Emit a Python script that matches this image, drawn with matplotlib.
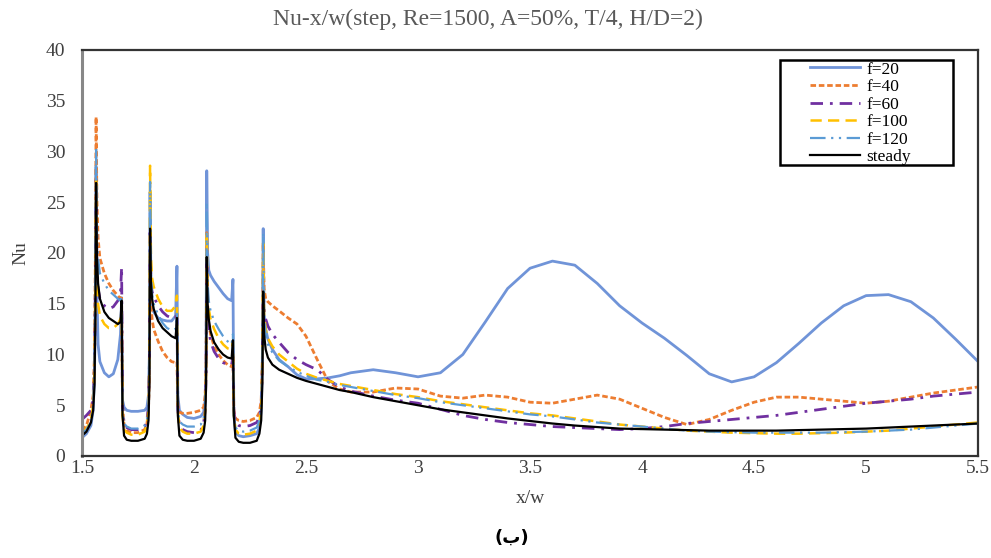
import numpy as np
import matplotlib
matplotlib.use("Agg")
import matplotlib.pyplot as plt
from matplotlib.patches import Rectangle

plt.rcParams['font.family'] = ['Liberation Serif', 'DejaVu Serif']

# x/w positions (dense around the block edges)
x_w = [1.50, 1.52, 1.54, 1.55, 1.556, 1.560, 1.563,
       1.567, 1.572, 1.58, 1.60, 1.62, 1.64, 1.66, 1.672, 1.677,
       1.681, 1.688, 1.70, 1.72, 1.75, 1.78, 1.79, 1.797, 1.801, 1.804,
       1.808, 1.813, 1.82, 1.84, 1.86, 1.88, 1.90, 1.918, 1.924,
       1.928, 1.935, 1.95, 1.97, 2.00, 2.03, 2.043, 2.050, 2.054, 2.057,
       2.061, 2.066, 2.074, 2.09, 2.11, 2.13, 2.15, 2.168, 2.174,
       2.178, 2.185, 2.20, 2.22, 2.25, 2.28, 2.292, 2.300, 2.305, 2.309,
       2.313, 2.32, 2.33, 2.35, 2.38, 2.42, 2.46, 2.50, 2.55, 2.60,
       2.65, 2.70, 2.80, 2.90, 3.00, 3.10, 3.20, 3.30, 3.40, 3.50,
       3.60, 3.70, 3.80, 3.90, 4.00, 4.10, 4.20, 4.30, 4.40, 4.50,
       4.60, 4.70, 4.80, 4.90, 5.00, 5.10, 5.20, 5.30, 5.40, 5.50]

nu_f20 = [1.8, 2.2, 3.0, 4.5, 8.0, 16.0, 28.5,
          16.0, 11.0, 9.3, 8.2, 7.8, 8.1, 9.5, 12.0, 15.6,
          5.5, 4.8, 4.5, 4.4, 4.4, 4.5, 4.8, 6.0, 10.0, 26.0,
          17.0, 15.0, 14.2, 13.6, 13.4, 13.3, 13.3, 13.8, 18.7,
          6.0, 4.5, 4.1, 3.8, 3.7, 3.9, 4.3, 5.5, 10.0, 28.1,
          20.0, 18.3, 17.8, 17.2, 16.6, 16.0, 15.5, 15.3, 17.4,
          4.0, 2.4, 2.0, 1.9, 2.0, 2.2, 2.8, 4.5, 9.0, 22.4,
          14.0, 12.5, 11.5, 10.5, 9.5, 8.8, 8.0, 7.6, 7.6, 7.7,
          7.9, 8.2, 8.5, 8.2, 7.8, 8.2, 10.0, 13.2, 16.5, 18.5,
          19.2, 18.8, 17.0, 14.8, 13.1, 11.6, 9.9, 8.1, 7.3, 7.8,
          9.2, 11.1, 13.1, 14.8, 15.8, 15.9, 15.2, 13.6, 11.5, 9.3]

nu_f40 = [2.5, 3.0, 4.5, 6.0, 10.0, 20.0, 33.4,
          25.0, 21.5, 19.5, 18.0, 17.0, 16.3, 15.8, 15.5, 15.8,
          5.0, 3.0, 2.5, 2.3, 2.3, 2.6, 3.2, 4.5, 8.0, 20.0,
          15.0, 13.5, 12.5, 11.3, 10.3, 9.7, 9.3, 9.2, 9.3,
          5.0, 4.3, 4.2, 4.2, 4.3, 4.5, 4.8, 6.0, 9.0, 22.0,
          15.0, 13.0, 12.0, 10.8, 10.0, 9.4, 9.0, 8.8, 9.5,
          4.5, 3.7, 3.5, 3.4, 3.5, 3.8, 4.3, 5.5, 9.0, 21.0,
          16.5, 15.5, 15.2, 14.8, 14.3, 13.6, 13.0, 11.8, 9.5, 7.3,
          6.6, 6.3, 6.3, 6.7, 6.6, 5.9, 5.7, 6.0, 5.8, 5.3,
          5.2, 5.6, 6.0, 5.6, 4.7, 3.8, 3.1, 3.6, 4.5, 5.3,
          5.8, 5.8, 5.6, 5.4, 5.2, 5.4, 5.8, 6.2, 6.5, 6.8]

nu_f60 = [3.6, 4.0, 4.5, 5.5, 9.0, 17.0, 27.2,
          19.0, 16.5, 15.5, 14.8, 14.5, 14.7, 15.3, 16.0, 18.6,
          5.0, 3.2, 2.8, 2.6, 2.6, 2.9, 3.5, 5.0, 9.0, 22.0,
          17.0, 16.2, 15.7, 14.8, 14.2, 13.8, 13.6, 13.6, 14.3,
          4.5, 3.0, 2.6, 2.4, 2.3, 2.5, 3.2, 4.5, 8.0, 20.0,
          14.0, 12.5, 11.3, 10.3, 9.6, 9.2, 9.0, 9.0, 9.8,
          4.5, 3.3, 3.0, 2.9, 3.0, 3.3, 3.8, 5.0, 8.5, 16.5,
          14.5, 13.5, 12.8, 12.0, 11.2, 10.2, 9.5, 9.0, 8.5, 7.5,
          6.8, 6.4, 5.9, 5.5, 5.2, 4.6, 4.0, 3.6, 3.3, 3.1,
          2.9, 2.8, 2.7, 2.6, 2.7, 2.9, 3.2, 3.4, 3.6, 3.8,
          4.0, 4.3, 4.6, 4.9, 5.2, 5.4, 5.6, 5.9, 6.1, 6.3]

nu_f100 = [2.3, 2.7, 3.5, 5.0, 8.5, 16.0, 27.5,
           17.0, 15.0, 13.8, 13.0, 12.6, 12.6, 13.0, 13.5, 14.5,
           4.0, 2.6, 2.3, 2.1, 2.1, 2.4, 3.0, 4.5, 9.0, 28.6,
           19.5, 17.5, 16.7, 15.5, 14.7, 14.3, 14.3, 14.8, 15.8,
           4.5, 2.8, 2.4, 2.2, 2.2, 2.4, 3.0, 4.5, 8.5, 22.0,
           16.0, 14.5, 13.5, 12.5, 11.6, 11.0, 10.6, 10.5, 11.3,
           4.0, 2.6, 2.2, 2.1, 2.2, 2.5, 3.2, 4.8, 9.0, 21.0,
           14.0, 12.5, 11.6, 10.8, 10.0, 9.3, 8.6, 8.1, 7.7, 7.4,
           7.1, 6.9, 6.5, 6.1, 5.8, 5.4, 5.1, 4.8, 4.5, 4.2,
           4.0, 3.7, 3.4, 3.1, 2.9, 2.7, 2.5, 2.4, 2.3, 2.25,
           2.2, 2.2, 2.25, 2.3, 2.4, 2.5, 2.7, 2.9, 3.1, 3.3]

nu_f120 = [2.2, 2.6, 3.3, 5.0, 9.0, 18.0, 30.5,
           22.0, 19.5, 18.0, 17.0, 16.3, 15.9, 15.5, 15.3, 15.8,
           4.5, 3.2, 2.9, 2.7, 2.7, 3.0, 3.5, 5.0, 9.5, 27.0,
           18.0, 16.0, 15.0, 13.9, 13.1, 12.6, 12.4, 12.5, 14.0,
           4.5, 3.4, 3.1, 2.9, 2.9, 3.1, 3.6, 5.0, 9.0, 25.0,
           17.0, 15.3, 14.3, 13.3, 12.5, 11.8, 11.3, 11.0, 12.0,
           4.0, 2.8, 2.5, 2.4, 2.5, 2.8, 3.5, 5.0, 9.0, 22.0,
           13.5, 12.0, 11.0, 10.2, 9.4, 8.8, 8.3, 7.9, 7.5, 7.3,
           7.0, 6.8, 6.4, 6.0, 5.7, 5.3, 5.0, 4.7, 4.4, 4.1,
           3.9, 3.6, 3.3, 3.1, 2.9, 2.7, 2.5, 2.4, 2.35, 2.3,
           2.3, 2.3, 2.3, 2.35, 2.4, 2.5, 2.6, 2.8, 3.0, 3.2]

nu_steady = [2.0, 2.4, 3.3, 4.5, 7.0, 14.0, 26.9,
             19.5, 17.0, 15.5, 14.2, 13.6, 13.3, 13.0, 13.2, 15.3,
             4.0, 2.0, 1.6, 1.5, 1.5, 1.7, 2.2, 3.5, 7.0, 22.4,
             17.0, 15.5, 14.5, 13.3, 12.6, 12.2, 11.8, 11.6, 13.6,
             4.0, 2.0, 1.6, 1.5, 1.5, 1.7, 2.3, 3.5, 7.0, 19.6,
             15.0, 13.5, 12.3, 11.2, 10.5, 10.0, 9.7, 9.6, 11.4,
             4.0, 1.8, 1.4, 1.3, 1.3, 1.5, 2.2, 3.5, 7.0, 16.2,
             12.0, 10.5, 9.7, 9.0, 8.5, 8.1, 7.7, 7.4, 7.1, 6.8,
             6.5, 6.3, 5.8, 5.4, 5.0, 4.6, 4.3, 4.0, 3.7, 3.45,
             3.2, 3.0, 2.85, 2.7, 2.65, 2.6, 2.55, 2.5, 2.5, 2.5,
             2.5, 2.55, 2.6, 2.65, 2.7, 2.8, 2.9, 3.0, 3.1, 3.2]

x_ticks = [1.5, 2, 2.5, 3, 3.5, 4, 4.5, 5, 5.5]
x_labels = ['1.5', '2', '2.5', '3', '3.5', '4', '4.5', '5', '5.5']
y_ticks = [0, 5, 10, 15, 20, 25, 30, 35, 40]

fig = plt.figure(figsize=(9.91, 5.58), dpi=100)
ax = fig.add_axes([0.0827, 0.1828, 0.9043, 0.7276])

ax.plot(x_w, nu_f20, color='#7094D8', lw=2.0, label='f=20')
ax.plot(x_w, nu_f40, color='#ED7D31', lw=2.0, ls=(0, (2, 1)), label='f=40')
ax.plot(x_w, nu_f60, color='#7030A0', lw=2.0, ls=(0, (4.5, 2.5, 1, 2.5)), label='f=60')
ax.plot(x_w, nu_f100, color='#FFC000', lw=1.8, ls=(0, (4.5, 2.5)), label='f=100')
ax.plot(x_w, nu_f120, color='#5B9BD5', lw=1.6, ls=(0, (7, 2.5, 1, 2.5, 1, 2.5)), label='f=120')
ax.plot(x_w, nu_steady, color='black', lw=1.6, label='steady')

ax.set_xlim(1.5, 5.5)
ax.set_ylim(0, 40)
ax.set_xticks(x_ticks)
ax.set_xticklabels(x_labels)
ax.set_yticks(y_ticks)
ax.tick_params(axis='both', length=0, labelsize=14, colors='#404040')
ax.tick_params(axis='y', pad=12)
ax.tick_params(axis='x', pad=3)

for side in ['top', 'right', 'bottom']:
    ax.spines[side].set_color('#333333')
    ax.spines[side].set_linewidth(1.6)
ax.spines['left'].set_color('#888888')
ax.spines['left'].set_linewidth(2.2)

ax.set_xlabel('x/w', fontsize=14, color='#404040', labelpad=9)
ax.set_ylabel('Nu', fontsize=14, color='#404040', labelpad=12)

fig.text(0.492, 0.966, 'Nu-x/w(step, Re=1500, A=50%, T/4, H/D=2)',
         ha='center', va='center', fontsize=17, color='#595959')

# legend entries without frame, box drawn separately
leg = ax.legend(loc='upper left', bbox_to_anchor=(0.8125, 0.972), borderaxespad=0,
                fontsize=12.5, handlelength=2.9, handletextpad=0.35, labelspacing=0.08,
                frameon=False, borderpad=0)
ax.add_patch(Rectangle((0.779, 0.7167), 0.193, 0.2587, transform=ax.transAxes,
                       fill=False, edgecolor='black', lw=1.8, zorder=5))

fig.text(0.516, 0.036, '(\u0628)', ha='center', va='center', fontsize=13,
         fontweight='bold', family=['DejaVu Sans'])

fig.savefig('out.png', dpi=100)
